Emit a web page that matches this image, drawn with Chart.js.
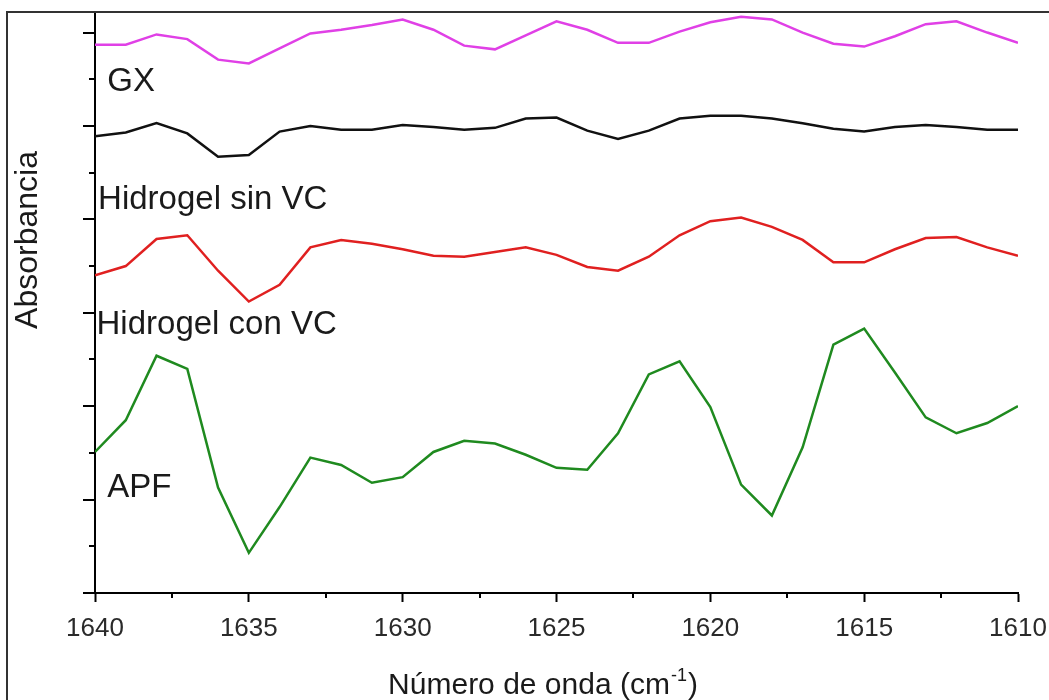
<!DOCTYPE html>
<html>
<head>
<meta charset="utf-8">
<script src="https://cdn.jsdelivr.net/npm/chart.js@4.4.1/dist/chart.umd.min.js"></script>
<style>
  html, body { margin: 0; padding: 0; background: #fff; }
  #wrap { position: relative; width: 1049px; height: 700px; }
</style>
</head>
<body>
<div id="wrap"><canvas id="ftir"></canvas></div>
<script>
// wavenumbers, cm-1 (axis runs 1640 -> 1610)
const waveNumbers = [
  1640, 1639, 1638, 1637, 1636, 1635, 1634, 1633, 1632, 1631, 1630,
  1629, 1628, 1627, 1626, 1625, 1624, 1623, 1622, 1621, 1620,
  1619, 1618, 1617, 1616, 1615, 1614, 1613, 1612, 1611, 1610,
];

// stacked (offset) absorbance traces, arbitrary units
const gx = [
  5.87, 5.87, 5.98, 5.93, 5.71, 5.67, 5.83, 5.99, 6.03, 6.08, 6.14,
  6.03, 5.86, 5.82, 5.97, 6.12, 6.03, 5.89, 5.89, 6.01, 6.11,
  6.17, 6.14, 6.0, 5.88, 5.85, 5.96, 6.09, 6.12, 6.0, 5.89,
];
const hidrogelSinVC = [
  4.89, 4.93, 5.03, 4.92, 4.67, 4.69, 4.94, 5.0, 4.96, 4.96, 5.01,
  4.99, 4.96, 4.98, 5.08, 5.09, 4.95, 4.86, 4.95, 5.08, 5.11,
  5.11, 5.08, 5.03, 4.97, 4.94, 4.99, 5.01, 4.99, 4.96, 4.96,
];
const hidrogelConVC = [
  3.4, 3.5, 3.79, 3.83, 3.45, 3.12, 3.3, 3.7, 3.78, 3.74, 3.68,
  3.61, 3.6, 3.65, 3.7, 3.62, 3.49, 3.45, 3.6, 3.83, 3.98,
  4.02, 3.92, 3.78, 3.54, 3.54, 3.68, 3.8, 3.81, 3.7, 3.61,
];
const apf = [
  1.51, 1.85, 2.54, 2.4, 1.13, 0.43, 0.92, 1.45, 1.37, 1.18, 1.24,
  1.51, 1.63, 1.6, 1.48, 1.34, 1.32, 1.71, 2.34, 2.48, 1.99,
  1.16, 0.83, 1.56, 2.66, 2.83, 2.36, 1.88, 1.71, 1.82, 2.0,
];

const seriesNames = ["GX", "Hidrogel sin VC", "Hidrogel con VC", "APF"];
const seriesColors = ["#e040e6", "#111111", "#e02020", "#1f8a1f"];
// where each name sits, in axis units [wavenumber, absorbance]
const labelSpots = [[1639.6, 5.47], [1639.9, 4.21], [1639.95, 2.87], [1639.6, 1.12]];

const xMajor = [1640, 1635, 1630, 1625, 1620, 1615, 1610];
const xMinor = [1637.5, 1632.5, 1627.5, 1622.5, 1617.5, 1612.5];
const yMajor = [0, 1, 2, 3, 4, 5, 6];
const yMinor = [0.5, 1.5, 2.5, 3.5, 4.5, 5.5];

const textFont = '"Liberation Sans", Arial, sans-serif';

const traces = [gx, hidrogelSinVC, hidrogelConVC, apf].map((vals, i) => ({
  label: seriesNames[i],
  data: vals.map((v, j) => ({ x: waveNumbers[j], y: v })),
  borderColor: seriesColors[i],
  borderWidth: 2.5,
  pointRadius: 0,
  tension: 0,
  fill: false,
}));

const decorations = {
  id: "decorations",
  afterDraw(chart) {
    const ctx = chart.ctx;
    const xs = chart.scales.x;
    const ys = chart.scales.y;
    const area = chart.chartArea;
    ctx.save();

    // outer frame (left + top only)
    ctx.strokeStyle = "#333";
    ctx.lineWidth = 2;
    ctx.beginPath();
    ctx.moveTo(7, 700);
    ctx.lineTo(7, 12);
    ctx.lineTo(1049, 12);
    ctx.stroke();

    // y ticks, pointing out
    ctx.strokeStyle = "#000";
    ctx.lineWidth = 2;
    ctx.beginPath();
    yMajor.forEach((v) => {
      const py = Math.round(ys.getPixelForValue(v));
      ctx.moveTo(area.left - 12, py);
      ctx.lineTo(area.left, py);
    });
    yMinor.forEach((v) => {
      const py = Math.round(ys.getPixelForValue(v));
      ctx.moveTo(area.left - 6, py);
      ctx.lineTo(area.left, py);
    });
    // x minor ticks
    xMinor.forEach((v) => {
      const px = Math.round(xs.getPixelForValue(v));
      ctx.moveTo(px, area.bottom);
      ctx.lineTo(px, area.bottom + 5);
    });
    ctx.stroke();

    // curve names
    ctx.fillStyle = "#1a1a1a";
    ctx.font = "33px " + textFont;
    ctx.textBaseline = "middle";
    ctx.textAlign = "left";
    labelSpots.forEach((p, i) => {
      ctx.fillText(seriesNames[i], xs.getPixelForValue(p[0]), ys.getPixelForValue(p[1]));
    });

    // y title
    ctx.save();
    ctx.translate(28, 240);
    ctx.rotate(-Math.PI / 2);
    ctx.textAlign = "center";
    ctx.font = "32px " + textFont;
    ctx.fillText("Absorbancia", 0, 0);
    ctx.restore();

    // x title with superscript
    ctx.textBaseline = "alphabetic";
    ctx.textAlign = "left";
    const main = "Número de onda (cm";
    ctx.font = "30px " + textFont;
    const w1 = ctx.measureText(main).width;
    ctx.font = "18px " + textFont;
    const w2 = ctx.measureText("-1").width;
    ctx.font = "30px " + textFont;
    const w3 = ctx.measureText(")").width;
    let x0 = 542 - (w1 + w2 + w3) / 2;
    const base = 694;
    ctx.fillText(main, x0, base);
    ctx.font = "18px " + textFont;
    ctx.fillText("-1", x0 + w1 + 1, base - 13);
    ctx.font = "30px " + textFont;
    ctx.fillText(")", x0 + w1 + w2 + 2, base);

    ctx.restore();
  },
};

new Chart(document.getElementById("ftir"), {
  type: "line",
  data: { datasets: traces },
  plugins: [decorations],
  options: {
    responsive: true,
    maintainAspectRatio: false,
    animation: false,
    layout: { padding: { top: 12, right: 31, left: 0, bottom: 0 } },
    plugins: {
      legend: { display: false },
      tooltip: { enabled: false },
    },
    scales: {
      x: {
        type: "linear",
        reverse: true,
        min: 1610,
        max: 1640,
        afterFit(scale) {
          scale.height = 107;
          scale.paddingLeft = 0;
          scale.paddingRight = 0;
        },
        afterBuildTicks(scale) { scale.ticks = xMajor.map((v) => ({ value: v })); },
        border: { display: true, color: "#000", width: 2 },
        grid: {
          display: true,
          drawOnChartArea: false,
          drawTicks: true,
          tickLength: 9,
          tickWidth: 2,
          tickColor: "#000",
        },
        ticks: {
          padding: 11,
          color: "#2a2a2a",
          font: { family: textFont, size: 26 },
          maxRotation: 0,
          callback: (v) => String(v),
        },
      },
      y: {
        min: 0,
        max: 6.22,
        afterFit(scale) { scale.width = 95; },
        border: { display: true, color: "#000", width: 2 },
        grid: { display: false },
        ticks: { display: false },
      },
    },
  },
});
</script>
</body>
</html>
